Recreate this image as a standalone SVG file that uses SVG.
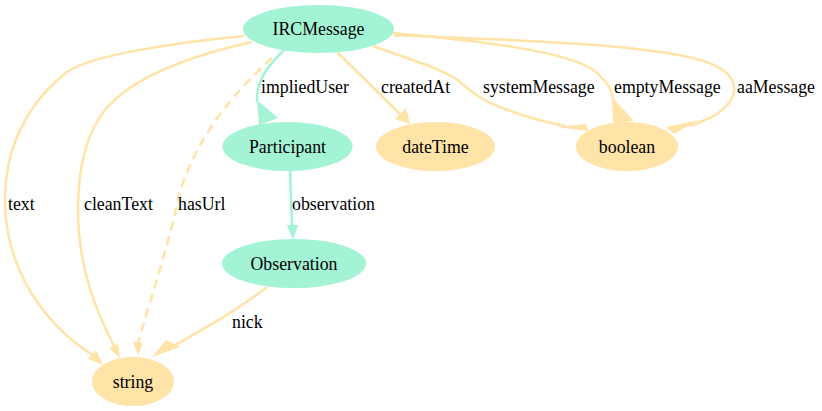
<svg xmlns="http://www.w3.org/2000/svg" width="822" height="411" viewBox="0 0 822 411">
<style>
  .cls { fill: #a3f3d5; stroke: none; }
  .lit { fill: #ffe3a7; stroke: none; }
  .nl { font-family: "Liberation Serif", "Times New Roman", serif; font-size: 17.8px; fill: #000; text-anchor: middle; }
  .el { font-family: "Liberation Serif", "Times New Roman", serif; font-size: 17.8px; fill: #000; }
  .eo { fill: none; stroke: #ffe3a7; stroke-width: 2.5; }
  .eg { fill: none; stroke: #a3f3d5; stroke-width: 2.5; }
  .dash { stroke-dasharray: 9 6; }
  .ho { fill: #ffe3a7; stroke: none; }
  .hg { fill: #a3f3d5; stroke: none; }
</style>
<rect width="822" height="411" fill="#ffffff"/>
<g id="edges">
  <!-- text -->
  <path class="eo" d="M244,36 C180,42 90,55 67,72 C25,105 5,150 5,200 C5,270 45,325 94,356"/>
  <polygon class="ho" points="103,365 88,359 96,350"/>
  <!-- cleanText -->
  <path class="eo" d="M252,42 C180,58 130,80 105,110 C85,135 78,170 78,210 C78,270 98,315 114,346"/>
  <polygon class="ho" points="120,358 109,348 118,344"/>
  <!-- hasUrl -->
  <path class="eo dash" d="M272,58 C225,100 190,150 178,200 C166,255 147,310 138,343"/>
  <polygon class="ho" points="138,355 133,342 143,343"/>
  <!-- impliedUser -->
  <path class="eg" d="M284,50 C268,66 256,80 257,102"/>
  <polygon class="hg" points="257,100 259,125 278,118"/>
  <!-- createdAt -->
  <path class="eo" d="M337,52 L401,115"/>
  <polygon class="ho" points="410,124 395,119 406,108"/>
  <!-- systemMessage -->
  <path class="eo" d="M373,46 C420,63 445,70 460,82 C475,95 482,100 505,109 C525,117 545,122 565,126"/>
  <polygon class="ho" points="588,131 556,127 586,124"/>
  <!-- emptyMessage -->
  <path class="eo" d="M393,33 C470,40 560,50 590,68 C605,78 612,88 613,100"/>
  <polygon class="ho" points="612,97 613,123 634,121"/>
  <!-- aaMessage -->
  <path class="eo" d="M393,35 C520,40 650,45 700,60 C745,73 742,100 712,117 L690,126"/>
  <polygon class="ho" points="666,127 699,120 674,134"/>
  <!-- observation -->
  <path class="eg" d="M290,171 L292,226"/>
  <polygon class="hg" points="293,240 287,225 298,225"/>
  <!-- nick -->
  <path class="eo" d="M267,287 C235,312 205,328 172,347"/>
  <polygon class="ho" points="152,357 166,340 180,347"/>
</g>
<g id="edge-labels">
  <text class="el" x="261" y="93">impliedUser</text>
  <text class="el" x="381" y="93">createdAt</text>
  <text class="el" x="483" y="93">systemMessage</text>
  <text class="el" x="614" y="93">emptyMessage</text>
  <text class="el" x="737" y="93">aaMessage</text>
  <text class="el" x="8" y="210">text</text>
  <text class="el" x="84" y="210">cleanText</text>
  <text class="el" x="178" y="210">hasUrl</text>
  <text class="el" x="292" y="210">observation</text>
  <text class="el" x="232" y="328">nick</text>
</g>
<g id="IRCMessage">
  <ellipse class="cls" cx="318.5" cy="29" rx="75.5" ry="24"/>
  <text class="nl" x="318.5" y="35">IRCMessage</text>
</g>
<g id="Participant">
  <ellipse class="cls" cx="287.5" cy="146.5" rx="65" ry="24.5"/>
  <text class="nl" x="287.5" y="152.5">Participant</text>
</g>
<g id="dateTime">
  <ellipse class="lit" cx="435.5" cy="146.5" rx="59.5" ry="24.5"/>
  <text class="nl" x="435.5" y="152.5">dateTime</text>
</g>
<g id="boolean">
  <ellipse class="lit" cx="627" cy="146.5" rx="51" ry="24.5"/>
  <text class="nl" x="627" y="152.5">boolean</text>
</g>
<g id="Observation">
  <ellipse class="cls" cx="294" cy="263.5" rx="72" ry="24.5"/>
  <text class="nl" x="294" y="269.5">Observation</text>
</g>
<g id="string">
  <ellipse class="lit" cx="133" cy="381.5" rx="41" ry="24.5"/>
  <text class="nl" x="133" y="387.5">string</text>
</g>
</svg>
